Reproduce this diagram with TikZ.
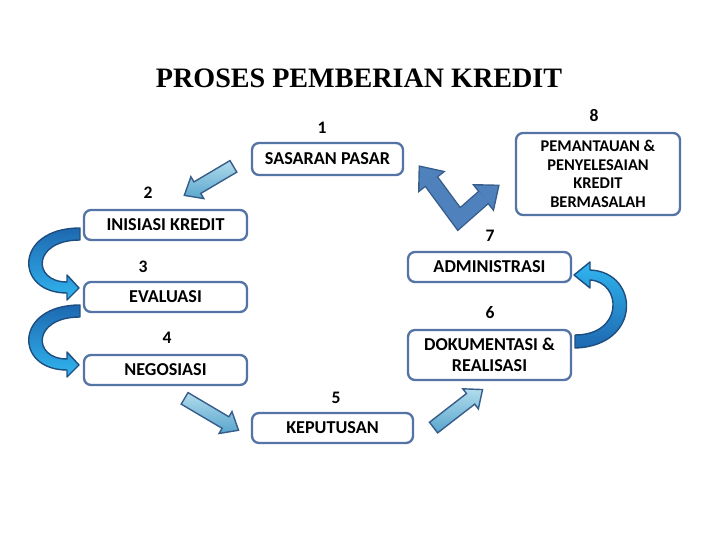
\documentclass[tikz,border=0pt]{standalone}
\usepackage{fontspec}
\setmainfont{Carlito}
\newfontfamily\judulfont{Liberation Serif}
\usetikzlibrary{calc}
\usetikzlibrary{shapes.arrows}

\definecolor{garisKotak}{RGB}{84,116,165}
\definecolor{biruTua}{RGB}{56,93,138}
\definecolor{biruV}{RGB}{79,129,189}
\definecolor{biruMuda}{RGB}{178,220,236}
\definecolor{biruSedang}{RGB}{88,165,205}
\definecolor{biruGelap}{RGB}{30,104,176}
\definecolor{cyanTerang}{RGB}{48,182,240}
\definecolor{garisLengkung}{RGB}{30,78,128}

\tikzset{
  kotak/.style={draw=garisKotak, line width=2pt, rounded corners=6pt, fill=white,
    align=center, inner sep=2pt, font=\bfseries\fontsize{15.5}{18}\selectfont},
  nomor/.style={font=\bfseries\fontsize{15}{16}\selectfont},
  panahLurus/.style={single arrow, draw=biruTua, line width=1.2pt,
    top color=biruMuda, bottom color=biruSedang, minimum width=0.72cm,
    single arrow head extend=0.18cm, single arrow tip angle=80,
    inner xsep=0pt, inner ysep=0.18cm, anchor=tail},
  panahLengkung/.style={draw=garisLengkung, line width=1.2pt, line join=round}
}

\begin{document}
\begin{tikzpicture}[x=0.03cm, y=-0.03cm]
    \useasboundingbox (0,0) rectangle (720,540);

    % --- Judul ---
    \node[font=\judulfont\bfseries\fontsize{24}{28}\selectfont] (judul) at (359,78) {PROSES PEMBERIAN KREDIT};

    % --- Kotak-kotak tahapan ---
    \node[kotak, minimum width=4.53cm, minimum height=0.96cm] (sasaran) at (327.5,159) {SASARAN PASAR};
    \node[kotak, minimum width=4.92cm, minimum height=2.46cm, font=\bfseries\fontsize{14}{16}\selectfont] (pemantauan) at (598,174)
        {PEMANTAUAN \&\\PENYELESAIAN\\KREDIT\\BERMASALAH};
    \node[kotak, minimum width=4.89cm, minimum height=0.9cm] (inisiasi) at (165.5,225) {INISIASI KREDIT};
    \node[kotak, minimum width=4.89cm, minimum height=0.9cm] (evaluasi) at (165.5,297) {EVALUASI};
    \node[kotak, minimum width=4.89cm, minimum height=0.9cm] (negosiasi) at (165.5,370) {NEGOSIASI};
    \node[kotak, minimum width=4.83cm, minimum height=0.9cm] (keputusan) at (332.5,428) {KEPUTUSAN};
    \node[kotak, minimum width=4.89cm, minimum height=0.9cm] (administrasi) at (489.5,267) {ADMINISTRASI};
    \node[kotak, minimum width=4.89cm, minimum height=1.5cm] (dokumentasi) at (489.5,355) {DOKUMENTASI \&\\REALISASI};

    % --- Nomor tahapan ---
    \foreach \n/\x/\y in {1/322/128, 2/148/193, 3/143/267, 4/167/338, 5/336/398, 6/490/313, 7/490/236, 8/594/116}
        \node[nomor] (no\n) at (\x,\y) {\n};

    % --- Panah lurus ---
    \coordinate (ekorA) at (234,166);
    \coordinate (ekorB) at (184,398);
    \coordinate (ekorC) at (433,428);
    \node[panahLurus, minimum height=1.71cm, rotate=210.6] (panahA) at (ekorA) {};
    \node[panahLurus, minimum height=1.88cm, rotate=-30.6] (panahB) at (ekorB) {};
    \node[panahLurus, minimum height=1.86cm, rotate=37.8] (panahC) at (ekorC) {};

    % --- Panah lengkung kiri (2 -> 3, 3 -> 4) ---
    \foreach \d in {0,77}
        \draw[panahLengkung, top color=biruGelap, bottom color=cyanTerang]
            (80,228+\d) .. controls (14,228+\d) and (14,293+\d) .. (67,293+\d)
            -- (67,300+\d) -- (79,288+\d) -- (67,275+\d) -- (67,282+\d)
            .. controls (32,282+\d) and (32,240+\d) .. (80,240+\d) -- cycle;

    % --- Panah lengkung kanan (6 -> 7) ---
    \draw[panahLengkung, top color=cyanTerang, bottom color=biruGelap]
        (575,348) .. controls (642,346) and (640,272) .. (590,270)
        -- (590,262) -- (574,275) -- (590,288) -- (590,280)
        .. controls (622,282) and (624,335) .. (575,335) -- cycle;

    % --- Panah V (7 -> 1 dan 7 -> 8) ---
    \coordinate (ujungKiri) at (420,167);
    \coordinate (pangkalKiri) at (431,181);
    \coordinate (sudutV) at (459,219);
    \coordinate (pangkalKanan) at (484,197);
    \coordinate (ujungKanan) at (498,186);
    \draw[biruTua, line width=0.42cm+2.4pt, line join=miter] (pangkalKiri) -- (sudutV) -- (pangkalKanan);
    \foreach \b/\t in {pangkalKiri/ujungKiri, pangkalKanan/ujungKanan}
        \draw[biruTua, fill=biruTua, line width=2.4pt, line join=miter]
            ($(\b)!0.44cm!90:(\t)$) -- (\t) -- ($(\b)!0.44cm!-90:(\t)$) -- cycle;
    \draw[biruV, line width=0.42cm, line join=miter] (pangkalKiri) -- (sudutV) -- (pangkalKanan);
    \foreach \b/\t in {pangkalKiri/ujungKiri, pangkalKanan/ujungKanan}
        \fill[biruV] ($(\b)!0.44cm!90:(\t)$) -- (\t) -- ($(\b)!0.44cm!-90:(\t)$) -- cycle;

\end{tikzpicture}
\end{document}
